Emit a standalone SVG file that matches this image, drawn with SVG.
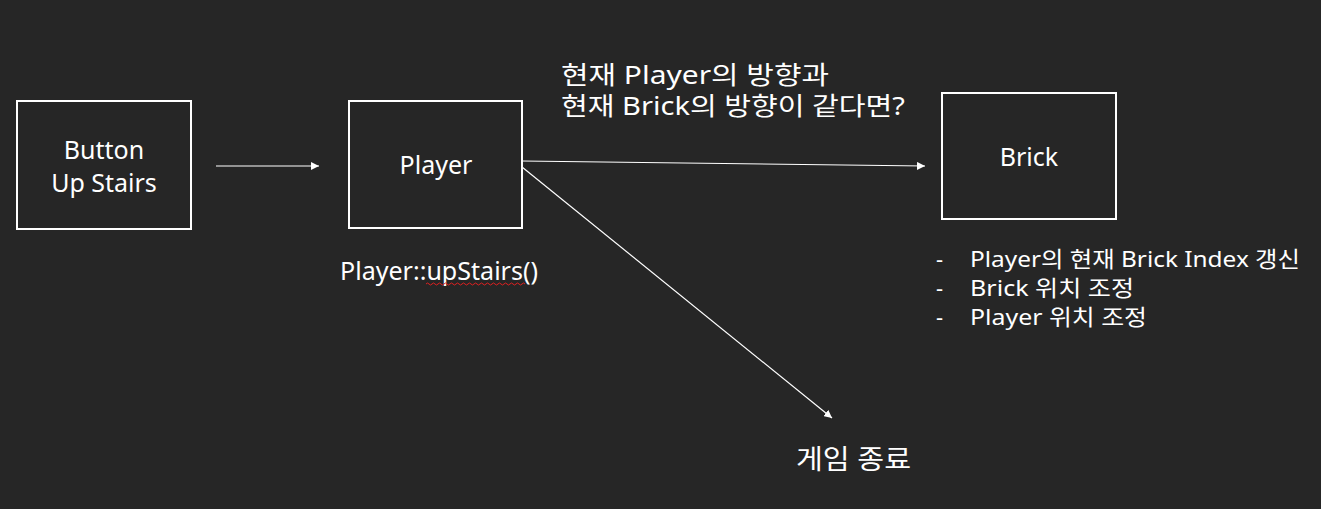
<svg xmlns="http://www.w3.org/2000/svg" width="1321" height="509" viewBox="0 0 1321 509">
<defs>
<style>
.box{fill:none;stroke:#ffffff;stroke-width:2}
.t{fill:#ffffff;font-family:"Noto Sans","Noto Sans CJK KR",sans-serif;font-size:25px}
.s{fill:#ffffff;font-family:"Noto Sans","Noto Sans CJK KR",sans-serif;font-size:22px}
.c{stroke:#ffffff;stroke-width:1.2;fill:none}
</style>
<marker id="ah" viewBox="0 0 10 10" refX="10" refY="5" markerWidth="8" markerHeight="8" markerUnits="userSpaceOnUse" orient="auto"><path d="M0,0 L10,5 L0,10 z" fill="#ffffff"/></marker>
</defs>
<rect width="1321" height="509" fill="#262626"/>
<g id="connectors">
<line class="c" x1="216" y1="166" x2="319" y2="166" marker-end="url(#ah)"/>
<line class="c" x1="522" y1="161" x2="925" y2="166" marker-end="url(#ah)"/>
<line class="c" x1="522" y1="167" x2="832" y2="418" marker-end="url(#ah)"/>
</g>
<g id="button">
<rect class="box" x="17" y="101" width="174" height="128"/>
<text class="t" x="104" y="159" text-anchor="middle">Button</text>
<text class="t" x="104" y="192" text-anchor="middle">Up Stairs</text>
</g>
<g id="player">
<rect class="box" x="349" y="101" width="173" height="127"/>
<text class="t" x="436" y="174" text-anchor="middle">Player</text>
<text class="t" x="340" y="280" textLength="198" lengthAdjust="spacingAndGlyphs">Player::upStairs()</text>
<path d="M426,284 q1.5,-2 3,0 t3,0 t3,0 t3,0 t3,0 t3,0 t3,0 t3,0 t3,0 t3,0 t3,0 t3,0 t3,0 t3,0 t3,0 t3,0 t3,0 t3,0 t3,0 t3,0 t3,0 t3,0 t3,0 t3,0 t3,0 t3,0 t3,0 t3,0 t3,0 t3,0 t3,0 t3,0 t3,0" stroke="#e02020" stroke-width="1" fill="none"/>
</g>
<g id="condition">
<text class="t" x="561" y="84" textLength="268" lengthAdjust="spacingAndGlyphs">현재 Player의 방향과</text>
<text class="t" x="561" y="115" textLength="344" lengthAdjust="spacingAndGlyphs">현재 Brick의 방향이 같다면?</text>
</g>
<g id="brick">
<rect class="box" x="942" y="93" width="174" height="126"/>
<text class="t" x="1029" y="166" text-anchor="middle">Brick</text>
<text class="s" x="936" y="267">-</text>
<text class="s" x="970" y="267" textLength="330" lengthAdjust="spacingAndGlyphs">Player의 현재 Brick Index 갱신</text>
<text class="s" x="936" y="296">-</text>
<text class="s" x="970" y="296" textLength="164" lengthAdjust="spacingAndGlyphs">Brick 위치 조정</text>
<text class="s" x="936" y="325">-</text>
<text class="s" x="970" y="325" textLength="177" lengthAdjust="spacingAndGlyphs">Player 위치 조정</text>
</g>
<g id="gameover">
<text class="t" x="796" y="469" style="font-size:27px" textLength="115" lengthAdjust="spacingAndGlyphs">게임 종료</text>
</g>
</svg>
